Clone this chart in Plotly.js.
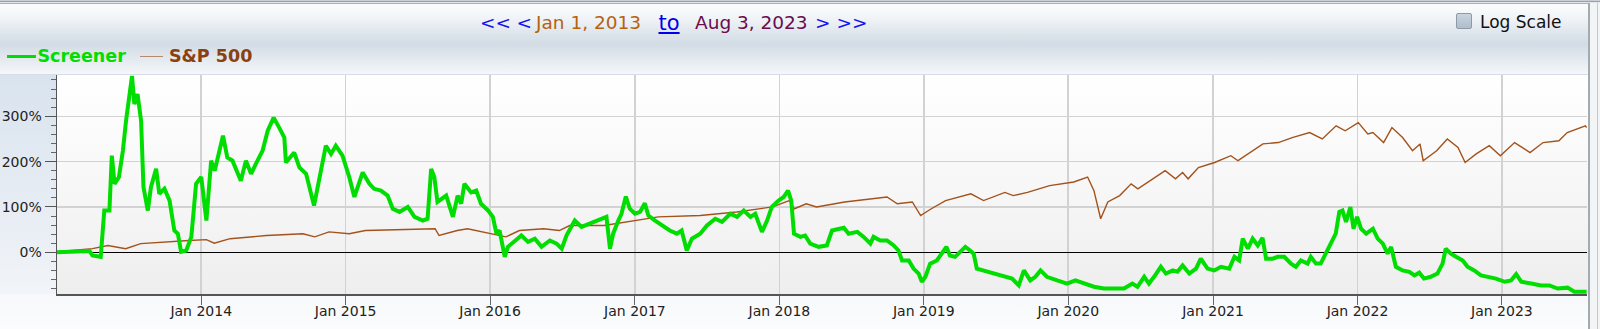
<!DOCTYPE html>
<html>
<head>
<meta charset="utf-8">
<script src="https://cdn.plot.ly/plotly-3.0.1.min.js"></script>
<style>
  html, body { margin:0; padding:0; width:1600px; height:329px; overflow:hidden; background:#fff; }
  .abs { position:absolute; }
  .txt { position:absolute; white-space:nowrap; line-height:1; font-family:"DejaVu Sans", Verdana, sans-serif; }
</style>
</head>
<body>
<script>
// ---------------- DATA ----------------
const screenerDates = [
 "2013-01-01","2013-02-01","2013-03-01","2013-03-25","2013-04-01","2013-04-22","2013-05-01","2013-05-14","2013-05-20","2013-05-27",
 "2013-06-07","2013-06-17","2013-06-25","2013-07-03","2013-07-10","2013-07-16","2013-07-24","2013-08-02","2013-08-08","2013-08-19",
 "2013-08-27","2013-09-09","2013-09-17","2013-09-30","2013-10-13","2013-10-25","2013-11-03","2013-11-11","2013-11-24","2013-12-07",
 "2013-12-19","2014-01-01","2014-01-14","2014-01-26","2014-02-04","2014-02-25","2014-03-08","2014-03-21","2014-04-11","2014-04-24",
 "2014-05-07","2014-05-19","2014-06-05","2014-06-18","2014-07-03","2014-07-17","2014-07-30","2014-08-03","2014-08-24","2014-09-06",
 "2014-09-23","2014-10-13","2014-10-26","2014-11-12","2014-11-25","2014-12-07","2014-12-24","2015-01-10","2015-01-23","2015-02-13",
 "2015-03-02","2015-03-14","2015-03-31","2015-04-17","2015-04-30","2015-05-17","2015-06-07","2015-06-24","2015-07-15","2015-07-27",
 "2015-08-05","2015-08-13","2015-08-21","2015-09-12","2015-09-29","2015-10-11","2015-10-20","2015-10-28","2015-11-14","2015-11-27",
 "2015-12-09","2015-12-27","2016-01-08","2016-01-17","2016-01-25","2016-02-07","2016-02-15","2016-03-03","2016-03-20","2016-04-06",
 "2016-04-23","2016-05-10","2016-05-31","2016-06-17","2016-06-30","2016-07-12","2016-08-02","2016-08-19","2016-09-09","2016-10-04",
 "2016-10-21","2016-10-30","2016-11-07","2016-11-20","2016-11-28","2016-12-09","2016-12-19","2017-01-01","2017-01-14","2017-01-26",
 "2017-02-04","2017-02-21","2017-03-14","2017-03-30","2017-04-17","2017-04-29","2017-05-12","2017-05-25","2017-06-15","2017-07-02",
 "2017-07-23","2017-08-09","2017-08-30","2017-09-16","2017-10-03","2017-10-20","2017-11-01","2017-11-18","2017-12-01","2017-12-13",
 "2017-12-30","2018-01-12","2018-01-23","2018-01-31","2018-02-07","2018-02-23","2018-03-07","2018-03-20","2018-04-10","2018-05-01",
 "2018-05-14","2018-06-04","2018-06-13","2018-06-25","2018-07-17","2018-08-02","2018-08-19","2018-08-27","2018-09-13","2018-09-30",
 "2018-10-17","2018-10-29","2018-11-07","2018-11-24","2018-12-06","2018-12-19","2018-12-27","2019-01-05","2019-01-17","2019-02-03",
 "2019-02-16","2019-02-27","2019-03-08","2019-03-21","2019-04-03","2019-04-16","2019-04-28","2019-05-07","2019-05-15","2019-06-01",
 "2019-06-18","2019-07-05","2019-07-22","2019-08-12","2019-08-29","2019-09-11","2019-09-27","2019-10-10","2019-10-23","2019-11-08",
 "2019-12-04","2019-12-29","2020-01-19","2020-02-09","2020-03-06","2020-03-31","2020-04-26","2020-05-21","2020-06-11","2020-06-24",
 "2020-07-11","2020-07-23","2020-08-05","2020-08-22","2020-09-04","2020-09-21","2020-10-03","2020-10-16","2020-11-02","2020-11-19",
 "2020-12-01","2020-12-18","2021-01-04","2021-01-21","2021-02-11","2021-02-24","2021-03-08","2021-03-17","2021-03-30","2021-04-11",
 "2021-04-24","2021-05-06","2021-05-15","2021-06-01","2021-06-13","2021-06-30","2021-07-17","2021-07-29","2021-08-11","2021-08-28",
 "2021-09-05","2021-09-18","2021-09-30","2021-10-13","2021-10-26","2021-11-07","2021-11-16","2021-11-24","2021-12-03","2021-12-14",
 "2021-12-22","2021-12-31","2022-01-10","2022-01-23","2022-02-09","2022-02-21","2022-03-06","2022-03-18","2022-03-27","2022-04-08",
 "2022-04-25","2022-05-12","2022-05-25","2022-06-06","2022-06-18","2022-07-05","2022-07-22","2022-08-04","2022-08-12","2022-08-25",
 "2022-09-07","2022-09-24","2022-10-06","2022-10-23","2022-11-09","2022-11-26","2022-12-17","2023-01-08","2023-01-24","2023-02-06",
 "2023-02-19","2023-03-16","2023-04-10","2023-05-01","2023-05-22","2023-06-16","2023-07-03","2023-08-03"
];
const screenerValues = [
 0,1,2,3,-7,-10,92,92,213,151,
 166,224,290,341,389,327,349,290,144,92,
 144,184,129,140,114,48,41,1,4,34,
 151,166,70,202,180,257,209,202,158,202,
 173,195,224,268,297,275,253,198,220,187,
 173,103,158,235,217,235,213,166,122,176,
 151,140,136,125,96,89,100,78,70,74,
 184,166,111,125,78,125,107,151,132,136,
 107,92,78,41,48,-10,12,26,37,23,
 30,12,26,19,8,37,70,56,63,70,
 78,8,41,70,85,123,96,85,89,108,
 81,70,56,48,41,48,4,30,41,59,
 74,67,85,78,92,78,85,45,70,100,
 114,122,136,114,41,34,37,19,12,15,
 48,52,54,41,45,34,19,34,26,26,
 15,4,-18,-18,-36,-47,-65,-54,-25,-18,
 -3,12,-7,-10,1,12,4,-3,-36,-40,
 -43,-47,-51,-58,-73,-40,-62,-54,-40,-54,
 -62,-69,-62,-69,-76,-80,-80,-80,-69,-76,
 -54,-69,-54,-32,-47,-40,-43,-29,-47,-36,
 -14,-36,-40,-32,-36,-10,-18,30,8,30,
 15,32,-14,-14,-10,-10,-25,-32,-18,-25,
 -10,-25,-25,-3,19,41,89,92,67,100,
 52,78,52,41,52,30,19,-3,12,-32,
 -40,-43,-51,-45,-58,-54,-47,-25,8,-3,
 -10,-18,-32,-40,-51,-54,-58,-65,-62,-48,
 -65,-69,-73,-73,-80,-78,-87,-87
];

const spDates = [
 "2013-01-01","2013-04-01","2013-05-10","2013-06-24","2013-08-01","2013-10-01","2013-12-01","2014-01-14","2014-02-03","2014-03-15",
 "2014-06-15","2014-09-15","2014-10-15","2014-11-20","2015-01-10","2015-02-20","2015-05-15","2015-07-15","2015-08-15","2015-08-25",
 "2015-10-10","2015-11-05","2015-12-15","2016-02-10","2016-03-15","2016-05-15","2016-06-24","2016-07-20","2016-10-15","2016-12-15",
 "2017-03-01","2017-06-15","2017-09-15","2017-12-15","2018-01-26","2018-02-08","2018-03-10","2018-04-05","2018-05-15","2018-06-15",
 "2018-09-30","2018-10-26","2018-12-03","2018-12-24","2019-01-20","2019-02-25","2019-04-30","2019-06-01","2019-07-25","2019-08-15",
 "2019-09-20","2019-11-15","2020-01-15","2020-02-19","2020-03-06","2020-03-23","2020-04-10","2020-05-10","2020-06-08","2020-06-25",
 "2020-09-02","2020-09-28","2020-10-16","2020-10-30","2020-11-25","2021-01-05","2021-02-15","2021-03-05","2021-05-07","2021-06-15",
 "2021-07-20","2021-09-02","2021-10-04","2021-11-08","2021-12-01","2022-01-03","2022-01-27","2022-02-09","2022-03-08","2022-03-29",
 "2022-04-25","2022-05-20","2022-06-08","2022-06-16","2022-07-20","2022-08-16","2022-09-12","2022-09-30","2022-10-28","2022-11-30",
 "2022-12-28","2023-02-02","2023-03-13","2023-04-15","2023-05-25","2023-06-15","2023-07-31","2023-08-03"
];
const spValues = [
 1,8,15,8,19,23,26,28,20,30,
 37,41,34,45,41,48,50,52,52,37,
 48,52,45,34,48,52,48,59,59,67,
 78,81,89,100,114,96,107,100,107,111,
 122,107,111,81,96,114,129,114,132,125,
 132,147,155,166,136,74,111,125,151,140,
 180,162,176,162,187,198,213,202,239,242,
 253,264,250,279,268,286,261,264,242,275,
 253,224,239,202,224,250,231,198,217,235,
 213,242,220,242,246,264,279,275
];

const seriesNames = ["Screener", "S&P 500"];
const yTickVals = [0, 100, 200, 300];
const yTickText = yTickVals.map(v => v + "%");
const xTickVals = ["2014-01-01","2015-01-01","2016-01-01","2017-01-01","2018-01-01",
                   "2019-01-01","2020-01-01","2021-01-01","2022-01-01","2023-01-01"];
const dateRange = ["2013-01-01 12:00", "2023-08-04"];
const yRange = [-92, 391];
</script>

<!-- frame / background decoration -->
<div class="abs" style="left:0;top:0;width:1600px;height:1px;background:#c9cfd5"></div>
<div class="abs" style="left:0;top:1px;width:1600px;height:1px;background:#98a1aa"></div>
<div class="abs" style="left:0;top:2px;width:1600px;height:1px;background:#e3e7eb"></div>
<div class="abs" style="left:0;top:3px;width:1600px;height:1px;background:#a9b1b9"></div>
<div class="abs" style="left:0;top:4px;width:1588px;height:70px;background:linear-gradient(to bottom,#fbfcfd 0%,#f1f4f7 20%,#dbe3ea 45%,#d3dce5 58%,#e3e9ef 78%,#f5f7f9 100%)"></div>
<div class="abs" style="left:0;top:74px;width:1588px;height:1px;background:#d5dee8"></div>
<div class="abs" style="left:0;top:75px;width:57px;height:219px;background:linear-gradient(to bottom,#d9e3ee 0%,#e6ecf3 55%,#f1f4f8 100%)"></div>
<div class="abs" style="left:57px;top:75px;width:1531px;height:219px;background:linear-gradient(to bottom,#ffffff 0%,#f8f8f8 45%,#eeeeee 100%)"></div>
<div class="abs" style="left:0;top:294px;width:1588px;height:35px;background:linear-gradient(to bottom,#f6f8fb 0%,#fbfcfd 100%)"></div>
<div class="abs" style="left:1588px;top:3px;width:2px;height:326px;background:#a2aab2"></div>
<div class="abs" style="left:1590px;top:3px;width:10px;height:326px;background:#f3f4f6"></div>
<div class="abs" style="left:1597px;top:3px;width:1px;height:326px;background:#c4c9ce"></div>

<div id="chart" class="abs" style="left:0;top:0;width:1600px;height:329px"></div>

<!-- navigation header -->
<span class="txt" style="left:480px;top:13.8px;font-size:18.5px;color:#1515ee">&lt;&lt;</span>
<span class="txt" style="left:516.5px;top:13.8px;font-size:18.5px;color:#1515ee">&lt;</span>
<span class="txt" style="left:536px;top:13.8px;font-size:18.5px;color:#b5620f">Jan 1, 2013</span>
<span class="txt" style="left:658.5px;top:12.5px;font-size:21px;color:#0000ee;text-decoration:underline">to</span>
<span class="txt" style="left:695px;top:13.8px;font-size:18.5px;color:#6a0c4e">Aug 3, 2023</span>
<span class="txt" style="left:815px;top:13.8px;font-size:18.5px;color:#1515ee">&gt;</span>
<span class="txt" style="left:836.5px;top:13.8px;font-size:18.5px;color:#1515ee">&gt;&gt;</span>

<!-- log scale checkbox -->
<div class="abs" style="left:1456px;top:13px;width:14px;height:14px;border:1px solid #8d9aa8;border-radius:2px;background:linear-gradient(to bottom,#c9d4df,#aebdcc)"></div>
<span class="txt" style="left:1480px;top:13.5px;font-size:17px;color:#111">Log Scale</span>

<!-- legend -->
<div class="abs" style="left:7px;top:54.5px;width:29px;height:3px;background:#00dd00"></div>
<span class="txt" id="lg1" style="left:37.5px;top:47.9px;font-size:17.5px;font-weight:bold;color:#00dd00"></span>
<div class="abs" style="left:140px;top:55.5px;width:23px;height:1px;background:#b78a6a"></div>
<span class="txt" id="lg2" style="left:169px;top:47.9px;font-size:17.5px;font-weight:bold;color:#8b4010"></span>

<script>
document.getElementById('lg1').textContent = seriesNames[0];
document.getElementById('lg2').textContent = seriesNames[1];

const traces = [
  { x: spDates, y: spValues, name: seriesNames[1], type: 'scatter', mode: 'lines',
    line: { color: '#a3521c', width: 1.4 }, hoverinfo: 'skip' },
  { x: screenerDates, y: screenerValues, name: seriesNames[0], type: 'scatter', mode: 'lines',
    line: { color: '#00dd00', width: 4 }, hoverinfo: 'skip' }
];

const layout = {
  width: 1600, height: 329,
  margin: { l: 57, r: 13, t: 75, b: 35, pad: 0 },
  paper_bgcolor: 'rgba(0,0,0,0)', plot_bgcolor: 'rgba(0,0,0,0)',
  showlegend: false,
  font: { family: 'DejaVu Sans, Verdana, sans-serif', size: 14, color: '#222' },
  xaxis: {
    type: 'date', range: dateRange, tickmode: 'array', tickvals: xTickVals, tickformat: '%b %Y',
    showgrid: true, gridcolor: '#d2d2d2', gridwidth: 1.5,
    ticks: 'outside', ticklen: 4, tickcolor: '#666', tickwidth: 1,
    minor: { dtick: 'M12', tick0: '2014-01-01', ticks: 'outside', ticklen: 9, tickcolor: '#666', tickwidth: 1, showgrid: false },
    showline: true, linecolor: '#555', linewidth: 1.5,
    tickfont: { family: 'DejaVu Sans, Verdana, sans-serif', size: 14, color: '#222' },
    zeroline: false, fixedrange: true
  },
  yaxis: {
    range: yRange, tickmode: 'array', tickvals: yTickVals, ticktext: yTickText,
    showgrid: true, gridcolor: '#d2d2d2', gridwidth: 1.5,
    ticks: 'outside', ticklen: 11, tickcolor: '#555', tickwidth: 1,
    showline: true, linecolor: '#555', linewidth: 1.5,
    zeroline: true, zerolinecolor: '#000', zerolinewidth: 1.3,
    tickfont: { family: 'DejaVu Sans, Verdana, sans-serif', size: 14, color: '#222' },
    minor: { dtick: 20, tick0: 0, ticks: 'outside', ticklen: 5, tickcolor: '#666', showgrid: false },
    fixedrange: true
  }
};

Plotly.newPlot('chart', traces, layout, { displayModeBar: false, staticPlot: true });
</script>
</body>
</html>
